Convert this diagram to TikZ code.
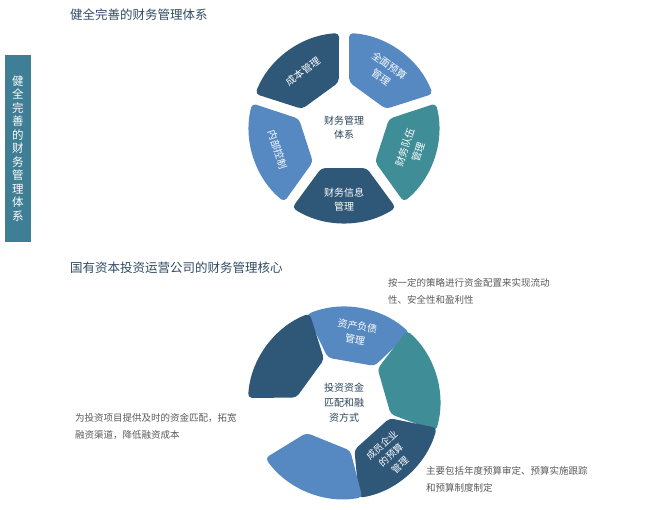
\documentclass[tikz,border=0pt]{standalone}
\usepackage{fontspec}
\setmainfont{Noto Sans CJK SC}
\definecolor{dk}{HTML}{2E5778}
\definecolor{lb}{HTML}{5689C2}
\definecolor{tl}{HTML}{3F8E97}
\definecolor{bar}{HTML}{3F7F96}
\definecolor{ttl}{HTML}{2F4A63}
\definecolor{note}{HTML}{595959}
\newcommand{\segm}[6]{% cx cy center rin rout color
 \fill[#6,rounded corners=4pt] ($(#1,#2)+(#3-29.5:#4)$) -- ($(#1,#2)+(#3-33:#5)$) arc[start angle=#3-33,end angle=#3+33,radius=#5] -- ($(#1,#2)+(#3+29.5:#4)$) -- cycle;}
\usetikzlibrary{calc}
\tikzset{segtxt/.style={text=white,font=\fontsize{10pt}{14pt}\selectfont,align=center,inner sep=0pt},
 notetxt/.style={text=note,font=\fontsize{9.5pt}{17pt}\selectfont,align=left,anchor=north west,inner sep=0pt},
 ttltxt/.style={text=ttl,font=\fontsize{12.5pt}{14pt}\selectfont,anchor=west,inner sep=0pt}}
\begin{document}
\begin{tikzpicture}[x=1pt,y=1pt]
\useasboundingbox (0,0) rectangle (648,510);
\node[ttltxt] (t1) at (70,495) {健全完善的财务管理体系};
\node[ttltxt] (t2) at (70,242) {国有资本投资运营公司的财务管理核心};
\fill[bar] (5,268) rectangle (31,455);
\node[text=white,font=\fontsize{11.5pt}{13.5pt}\selectfont,align=center,inner sep=0pt] (bt) at (18,361.5) {健\\全\\完\\善\\的\\财\\务\\管\\理\\体\\系};
% top wheel
\segm{344}{382}{270}{46}{95}{dk}
\segm{344}{382}{342}{46}{95}{tl}
\segm{344}{382}{54}{46}{95}{lb}
\segm{344}{382}{126}{46}{95}{dk}
\segm{344}{382}{198}{46}{95}{lb}
\node[text=ttl!90!black,font=\fontsize{10pt}{14pt}\selectfont,align=center] (c1) at (344,382) {财务管理\\体系};
\node[segtxt] (s1) at ($(344,382)+(270:72)$) {财务信息\\管理};
\node[segtxt,rotate=72] (s2) at ($(344,382)+(342:71)$) {财务队伍\\管理};
\node[segtxt,rotate=-36] (s3) at ($(344,382)+(54:70)$) {全面预算\\管理};
\node[segtxt,rotate=36] (s4) at ($(344,382)+(126:70)$) {成本管理};
\node[segtxt,rotate=-72] (s5) at ($(344,382)+(198:70)$) {内部控制};
% bottom wheel
\segm{344}{107}{80}{48}{96}{lb}
\segm{344}{107}{16}{48}{96}{tl}
\segm{344}{107}{-48}{48}{96}{dk}
\segm{344}{107}{-112}{48}{96}{lb}
\segm{344}{107}{144}{48}{96}{dk}
\node[text=ttl!90!black,font=\fontsize{10pt}{15pt}\selectfont,align=center] (c2) at (344,107) {投资资金\\匹配和融\\资方式};
\node[segtxt,rotate=-10] (b1) at ($(344,107)+(80:71)$) {资产负债\\管理};
\node[segtxt,rotate=42,font=\fontsize{9.5pt}{13.5pt}\selectfont] (b2) at ($(344,107)+(-48:70)$) {成员企业\\的预算\\管理};
\node[notetxt] (n1) at (388,232) {按一定的策略进行资金配置来实现流动\\性、安全性和盈利性};
\node[notetxt] (n2) at (75,97) {为投资项目提供及时的资金匹配，拓宽\\融资渠道，降低融资成本};
\node[notetxt] (n3) at (426,44) {主要包括年度预算审定、预算实施跟踪\\和预算制度制定};
\end{tikzpicture}
\end{document}
